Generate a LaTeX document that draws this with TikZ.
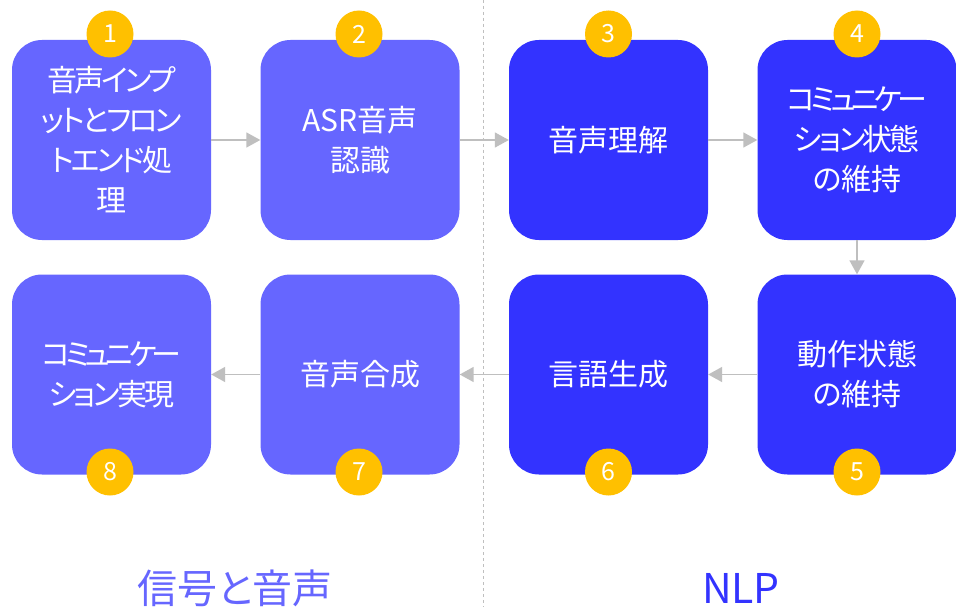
\documentclass[tikz,border=0pt]{standalone}
\usepackage{fontspec}
\setmainfont{Noto Sans CJK JP}[RawFeature=+palt]
\usetikzlibrary{arrows.meta}
\definecolor{lightb}{HTML}{6666FF}
\definecolor{darkb}{HTML}{3333FF}
\definecolor{badge}{HTML}{FFC000}
\definecolor{conngray}{HTML}{BFBFBF}
\newcommand{\kanaline}[1]{{\addfontfeature{LetterSpace=-9}#1}}
\newcommand{\kanatight}[1]{{\addfontfeature{LetterSpace=-16}#1}}
\begin{document}
\begin{tikzpicture}[x=1pt,y=-1pt,
  box/.style={rounded corners=30pt, minimum width=199pt, minimum height=200pt,
    inner sep=0pt, text=white, align=center, font=\fontsize{30}{40}\selectfont},
  lbox/.style={box, fill=lightb},
  dbox/.style={box, fill=darkb},
  num/.style={circle, fill=badge, minimum size=47pt, inner sep=0pt, text=white,
    font=\fontsize{25}{25}\selectfont},
  conn/.style={draw=conngray, line width=1.5pt, -{Triangle[length=14pt,width=15pt]}},
  divider/.style={draw=conngray, line width=0.8pt, dash pattern=on 3pt off 3pt},
  section/.style={anchor=base}]
\useasboundingbox (0,0) rectangle (956,607);
\fill[white] (0,0) rectangle (956,607);
% divider
\coordinate (dtop) at (483.5,0);
\coordinate (dbot) at (483.5,607);
\draw[divider] (dtop) -- (dbot);
% boxes
\node[lbox] (b1) at (111.5,140) {\kanaline{音声インプ}\\\kanaline{ットとフロン}\\\kanaline{トエンド処}\\理};
\node[lbox] (b2) at (360,140) {ASR音声\\認識};
\node[dbox] (b3) at (608.5,140) {音声理解};
\node[dbox] (b4) at (857,140) {\kanatight{コミュニケー}\\\kanaline{ション状態}\\の維持};
\node[dbox] (b5) at (857,374.5) {動作状態\\の維持};
\node[dbox] (b6) at (608.5,374.5) {言語生成};
\node[lbox] (b7) at (360,374.5) {音声合成};
\node[lbox] (b8) at (111.5,374.5) {\kanatight{コミュニケー}\\\kanaline{ション実現}};
% connectors
\draw[conn] (b1) -- (b2);
\draw[conn] (b2) -- (b3);
\draw[conn] (b3) -- (b4);
\draw[conn] (b4) -- (b5);
\draw[conn] (b5) -- (b6);
\draw[conn] (b6) -- (b7);
\draw[conn] (b7) -- (b8);
% badges
\node[num] (n1) at (110,34) {1};
\node[num] (n2) at (359,34) {2};
\node[num] (n3) at (608.5,34) {3};
\node[num] (n4) at (857,34) {4};
\node[num] (n5) at (857,472) {5};
\node[num] (n6) at (608.5,472) {6};
\node[num] (n7) at (359,472) {7};
\node[num] (n8) at (110,472) {8};
% section labels
\node[section, text=lightb, font=\fontsize{40}{40}\selectfont] (lsig) at (235,603) {信号と音声};
\node[section, text=darkb, font=\fontsize{41}{41}\selectfont] (lnlp) at (741,603) {NLP};
\end{tikzpicture}
\end{document}
